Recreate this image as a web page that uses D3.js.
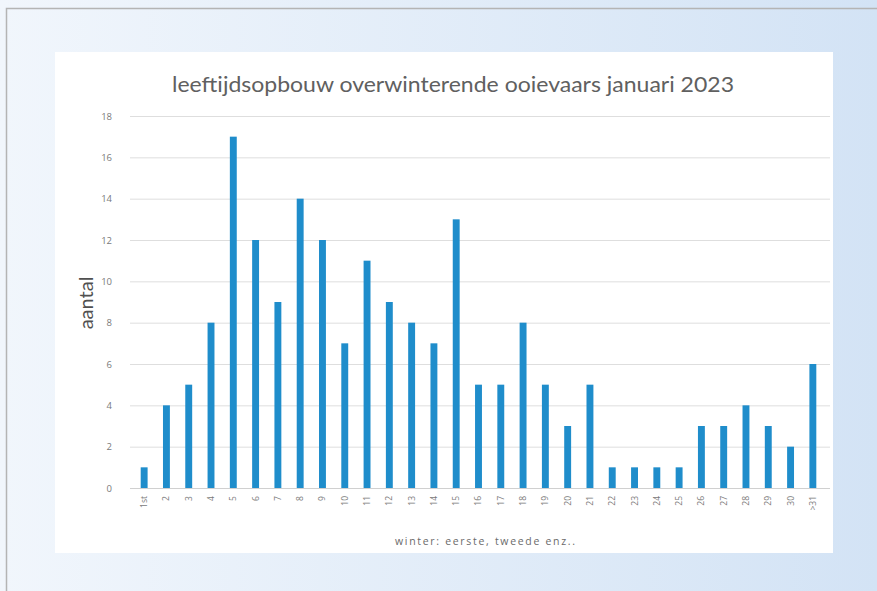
<!DOCTYPE html>
<html><head><meta charset="utf-8">
<script src="https://cdn.jsdelivr.net/npm/d3@7"></script>
<style>body{margin:0;padding:0;overflow:hidden;}svg{display:block;}</style>
</head><body>
<svg id="c" width="877" height="591"></svg>
<script>
const categories = ["1st","2","3","4","5","6","7","8","9","10","11","12","13","14","15","16","17","18","19","20","21","22","23","24","25","26","27","28","29","30",">31"];
const values = [1,4,5,8,17,12,9,14,12,7,11,9,8,7,13,5,5,8,5,3,5,1,1,1,1,3,3,4,3,2,6];
const yTicks = [0,2,4,6,8,10,12,14,16,18];
const title = "leeftijdsopbouw overwinterende ooievaars januari 2023";
const yTitle = "aantal";
const xTitle = "winter: eerste, tweede enz..";

const svg = d3.select("#c");
const defs = svg.append("defs");
const g = defs.append("linearGradient").attr("id","bg").attr("x1","0").attr("x2","1").attr("y1","0").attr("y2","0");
g.append("stop").attr("offset","0").attr("stop-color","#f1f6fc");
g.append("stop").attr("offset","1").attr("stop-color","#d3e3f5");
svg.append("rect").attr("width",877).attr("height",591).attr("fill","url(#bg)");
svg.append("path").attr("d","M6.5,591 V8.5 H877").attr("fill","none").attr("stroke","#b4b4b4").attr("stroke-width",1.5);

// white panel
svg.append("rect").attr("x",55).attr("y",52).attr("width",778).attr("height",501).attr("fill","#ffffff");

const x = d3.scaleBand().domain(categories).range([133,824]).paddingInner(0.69).paddingOuter(0.345);
const y = d3.scaleLinear().domain([0,18]).range([488,116]);

// gridlines
svg.append("g").selectAll("line").data(yTicks.filter(d=>d>0)).join("line")
  .attr("x1",130).attr("x2",830).attr("y1",d=>y(d)+0.5).attr("y2",d=>y(d)+0.5)
  .attr("stroke","#dedede").attr("stroke-width",1);

// y axis labels
const ya = d3.axisLeft(y).tickValues(yTicks).tickSize(0).tickPadding(0);
const yg = svg.append("g").attr("transform","translate(112,0)").call(ya);
yg.select(".domain").remove();
yg.selectAll("text").attr("font-family","Open Sans, sans-serif").attr("font-size",9.5).attr("fill","#7a7a7a");

// bars
svg.append("g").selectAll("rect").data(values).join("rect")
  .attr("x",(d,i)=>x(categories[i])).attr("width",x.bandwidth())
  .attr("y",d=>y(d)).attr("height",d=>y(0)-y(d)).attr("fill","#1f8dcb");

// x axis
const xa = d3.axisBottom(x).tickSize(0).tickPadding(0);
const xg = svg.append("g").attr("transform","translate(0,488)").call(xa);
xg.select(".domain").attr("d","M130,0.5H830").attr("stroke","#d0d0d0");
xg.selectAll("text").attr("font-family","Open Sans, sans-serif").attr("font-size",8.5).attr("fill","#7a7a7a")
  .attr("transform","rotate(-90)").attr("text-anchor","end").attr("dy","0.35em").attr("x",-8).attr("y",0);

// titles
svg.append("text").attr("x",453).attr("y",92).attr("text-anchor","middle")
  .attr("font-family","Lato, sans-serif").attr("font-size",21).attr("fill","#606060")
  .attr("textLength",562).attr("lengthAdjust","spacingAndGlyphs").text(title);
svg.append("text").attr("transform","translate(93,303) rotate(-90)").attr("text-anchor","middle")
  .attr("font-family","Lato, sans-serif").attr("font-size",20).attr("fill","#505050").text(yTitle);
svg.append("text").attr("x",485).attr("y",545).attr("text-anchor","middle")
  .attr("font-family","Open Sans, sans-serif").attr("font-size",10.5).attr("fill","#6a6a6a")
  .attr("textLength",180).attr("lengthAdjust","spacing").text(xTitle);
</script>
</body></html>
